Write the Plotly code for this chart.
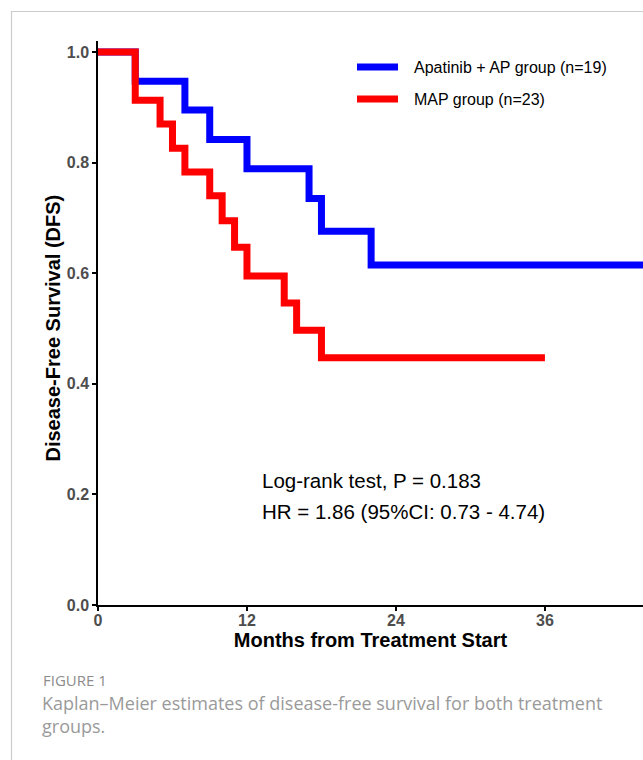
import plotly.graph_objects as go

# Kaplan-Meier step data
blue_name = "Apatinib + AP group (n=19)"
blue_months = [0, 3, 7, 9, 12, 17, 18, 22, 44]
blue_surv = [1.0, 0.947, 0.895, 0.842, 0.789, 0.735, 0.676, 0.615, 0.615]

red_name = "MAP group (n=23)"
red_months = [0, 3, 5, 6, 7, 9, 10, 11, 12, 15, 16, 18, 36]
red_surv = [1.0, 0.913, 0.870, 0.826, 0.783, 0.740, 0.695, 0.647, 0.595, 0.546, 0.497, 0.447, 0.447]

x_ticks = [0, 12, 24, 36]
y_ticks = [0.0, 0.2, 0.4, 0.6, 0.8, 1.0]
y_tick_labels = ["0.0", "0.2", "0.4", "0.6", "0.8", "1.0"]

x_title = "Months from Treatment Start"
y_title = "Disease-Free Survival (DFS)"
stat_lines = ["Log-rank test, P = 0.183", "HR = 1.86 (95%CI: 0.73 - 4.74)"]
caption_head = "FIGURE 1"
caption_body = "Kaplan\u2013Meier estimates of disease-free survival for both treatment<br>groups."

BLUE = "#0000FF"
RED = "#FF0000"
FONT = "Liberation Sans, Arial, sans-serif"

fig = go.Figure()
fig.add_trace(go.Scatter(x=blue_months, y=blue_surv, mode="lines", line_shape="hv",
                         line=dict(color=BLUE, width=7), name=blue_name, showlegend=False))
fig.add_trace(go.Scatter(x=red_months, y=red_surv, mode="lines", line_shape="hv",
                         line=dict(color=RED, width=7), name=red_name, showlegend=False))

# pixel helpers (plot area: x 98..643, y 41..605)
L, R, T, B = 98, 643, 41, 605
def px(X):
    return (X - L) / (R - L)
def py(Y):
    return (B - Y) / (B - T)

# manual legend
for (name, col, Y) in [(blue_name, BLUE, 67), (red_name, RED, 99)]:
    fig.add_shape(type="line", xref="paper", yref="paper", x0=px(357), x1=px(398), y0=py(Y), y1=py(Y),
                  line=dict(color=col, width=7))
    fig.add_annotation(xref="paper", yref="paper", x=px(412), y=py(Y), text=name, showarrow=False,
                       xanchor="left", yanchor="middle", font=dict(family=FONT, size=16, color="black"))

# statistics text
for txt, Y in zip(stat_lines, [480, 511]):
    fig.add_annotation(xref="paper", yref="paper", x=px(260), y=py(Y), text=txt, showarrow=False,
                       xanchor="left", yanchor="middle", font=dict(family=FONT, size=20.5, color="black"))

# y axis title (centred on the 0..1 span)
fig.add_annotation(xref="paper", yref="paper", x=px(52), y=py(328.5), text="<b>" + y_title + "</b>",
                   showarrow=False, textangle=-90, xanchor="center", yanchor="middle",
                   font=dict(family=FONT, size=20, color="black"))

# caption
fig.add_annotation(xref="paper", yref="paper", x=px(41), y=py(680), text=caption_head, showarrow=False,
                   xanchor="left", yanchor="middle", font=dict(family="Open Sans, sans-serif", size=15, color="#8c8c8c"))
fig.add_annotation(xref="paper", yref="paper", x=px(40), y=py(714), text=caption_body, showarrow=False,
                   xanchor="left", yanchor="middle", align="left",
                   font=dict(family="Open Sans, sans-serif", size=18, color="#9a9a9a"))

# frame
fig.add_shape(type="line", xref="paper", yref="paper", x0=px(11), x1=px(660), y0=py(11.5), y1=py(11.5),
              line=dict(color="#cccccc", width=1.2), layer="above")
fig.add_shape(type="line", xref="paper", yref="paper", x0=px(11.5), x1=px(11.5), y0=py(11), y1=py(780),
              line=dict(color="#cccccc", width=1.2), layer="above")

fig.update_layout(
    width=643, height=760,
    margin=dict(l=L, r=0, t=T, b=760 - B),
    plot_bgcolor="white", paper_bgcolor="white",
    font=dict(family=FONT),
    xaxis=dict(range=[0, 43.9], tickvals=x_ticks, ticktext=[str(v) for v in x_ticks],
               showgrid=False, zeroline=False, showline=True, linecolor="black", linewidth=1.5,
               ticks="outside", ticklen=4, tickcolor="black", tickwidth=1.5, ticklabelstandoff=-4,
               tickfont=dict(family=FONT, size=16, color="#4d4d4d", weight="bold"),
               title=dict(text="<b>" + x_title + "</b>", standoff=2,
                          font=dict(family=FONT, size=20, color="black"))),
    yaxis=dict(range=[0, 1.02], tickvals=y_ticks, ticktext=y_tick_labels,
               showgrid=False, zeroline=False, showline=True, linecolor="black", linewidth=1.5,
               ticks="outside", ticklen=4, tickcolor="black", tickwidth=1.5,
               tickfont=dict(family=FONT, size=16, color="#4d4d4d", weight="bold")),
)

fig.write_html("out.html", config={"displayModeBar": False},
               post_script="document.body.style.margin='0';document.body.style.overflow='hidden';")
